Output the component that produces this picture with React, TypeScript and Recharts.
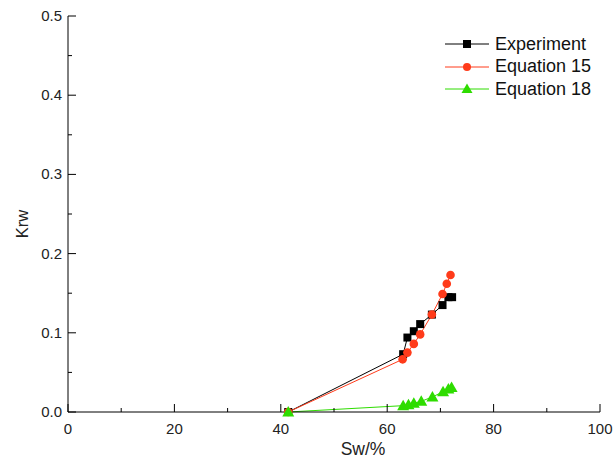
import { LineChart, Line, XAxis, YAxis } from 'recharts';

// Sw (%) and Krw
const swExp = [41.4, 63.0, 63.8, 65.0, 66.2, 68.4, 70.4, 71.5, 72.2];
const krwExp = [0, 0.073, 0.094, 0.102, 0.111, 0.123, 0.135, 0.145, 0.145];

const swEq15 = [41.4, 62.9, 63.8, 65.0, 66.2, 68.4, 70.4, 71.2, 71.9];
const krwEq15 = [0, 0.0665, 0.075, 0.086, 0.098, 0.123, 0.149, 0.162, 0.173];

const swEq18 = [41.4, 63.0, 64.0, 65.0, 66.4, 68.5, 70.5, 71.5, 72.1];
const krwEq18 = [0, 0.008, 0.009, 0.011, 0.0135, 0.019, 0.0256, 0.029, 0.031];

const xTicks = [0, 10, 20, 30, 40, 50, 60, 70, 80, 90, 100];
const yTicks = [0, 0.05, 0.1, 0.15, 0.2, 0.25, 0.3, 0.35, 0.4, 0.45, 0.5];

const legendItems = ['Experiment', 'Equation 15', 'Equation 18'];

const BLACK = '#000000';
const RED = '#ff3b1a';
const GREEN = '#2edc00';

const FONT = '"Liberation Sans", Arial, sans-serif';

const toRows = (xs: number[], ys: number[]) => xs.map((sw, i) => ({ sw, krw: ys[i] }));

const expData = toRows(swExp, krwExp);
const eq15Data = toRows(swEq15, krwEq15);
const eq18Data = toRows(swEq18, krwEq18);

const SquareDot = (props: any) => {
  const { cx, cy, index } = props;
  return <rect key={`s-${index}`} x={cx - 4} y={cy - 4} width={8} height={8} fill={BLACK} />;
};

const CircleDot = (props: any) => {
  const { cx, cy, index } = props;
  return <circle key={`c-${index}`} cx={cx} cy={cy} r={4.3} fill={RED} />;
};

const TriangleDot = (props: any) => {
  const { cx, cy, index } = props;
  return (
    <polygon
      key={`t-${index}`}
      points={`${cx},${cy - 6} ${cx - 6},${cy + 4.5} ${cx + 6},${cy + 4.5}`}
      fill={GREEN}
    />
  );
};

const XTick = (props: any) => {
  const { x, y, payload } = props;
  const major = payload.value % 20 === 0;
  return (
    <g>
      <line x1={x} y1={y} x2={x} y2={y - (major ? 8 : 4)} stroke="#000" strokeWidth={1} />
      {major && (
        <text x={x} y={y + 22} textAnchor="middle" fontSize={15} fill="#222" fontFamily={FONT}>
          {payload.value}
        </text>
      )}
    </g>
  );
};

const YTick = (props: any) => {
  const { x, y, payload } = props;
  const major = Math.round(payload.value * 100) % 10 === 0;
  return (
    <g>
      <line x1={x} y1={y} x2={x + (major ? 8 : 4)} y2={y} stroke="#000" strokeWidth={1} />
      {major && (
        <text x={x - 6} y={y + 5} textAnchor="end" fontSize={15} fill="#222" fontFamily={FONT}>
          {payload.value.toFixed(1)}
        </text>
      )}
    </g>
  );
};

const LegendIcon = ({ color, shape }: { color: string; shape: number }) => (
  <svg width={44} height={14} style={{ marginRight: 6 }}>
    <line x1={0} y1={7} x2={44} y2={7} stroke={color} strokeWidth={1} />
    {shape === 0 && <rect x={18} y={3} width={8} height={8} fill={color} />}
    {shape === 1 && <circle cx={22} cy={7} r={4} fill={color} />}
    {shape === 2 && <polygon points="22,1.5 16.5,11 27.5,11" fill={color} />}
  </svg>
);

export default function App() {
  const colors = [BLACK, RED, GREEN];
  return (
    <div style={{ position: 'relative', width: 613, height: 463 }}>
      <style>{'body { margin: 0; }'}</style>
      <LineChart width={613} height={463} margin={{ top: 16, right: 13, left: 0, bottom: 0 }}>
        <XAxis
          dataKey="sw"
          type="number"
          domain={[0, 100]}
          ticks={xTicks}
          interval={0}
          tick={<XTick />}
          tickLine={false}
          tickSize={0}
          tickMargin={0}
          height={51}
          stroke="#000"
          allowDuplicatedCategory={false}
          label={{
            content: ({ viewBox }: any) => (
              <text
                x={viewBox.x + viewBox.width / 2 + 29}
                y={viewBox.y + 43}
                textAnchor="middle"
                fontSize={17.5}
                fill="#222"
                fontFamily={FONT}
              >
                Sw/%
              </text>
            ),
          }}
        />
        <YAxis
          type="number"
          domain={[0, 0.5]}
          ticks={yTicks}
          interval={0}
          tick={<YTick />}
          tickLine={false}
          tickSize={0}
          tickMargin={0}
          width={68}
          stroke="#000"
          label={{
            content: ({ viewBox }: any) => {
              const lx = 22;
              const ly = viewBox.y + viewBox.height / 2 + 10;
              return (
                <text
                  x={lx}
                  y={ly}
                  transform={`rotate(-90, ${lx}, ${ly})`}
                  textAnchor="middle"
                  dominantBaseline="central"
                  fontSize={16.5}
                  fill="#222"
                  fontFamily={FONT}
                >
                  Krw
                </text>
              );
            },
          }}
        />
        <Line
          data={expData}
          dataKey="krw"
          stroke={BLACK}
          strokeWidth={1}
          dot={SquareDot}
          activeDot={false}
          isAnimationActive={false}
        />
        <Line
          data={eq15Data}
          dataKey="krw"
          stroke={RED}
          strokeWidth={1}
          dot={CircleDot}
          activeDot={false}
          isAnimationActive={false}
        />
        <Line
          data={eq18Data}
          dataKey="krw"
          stroke={GREEN}
          strokeWidth={1}
          dot={TriangleDot}
          activeDot={false}
          isAnimationActive={false}
        />
      </LineChart>
      <div style={{ position: 'absolute', left: 445, top: 33, fontFamily: FONT, fontSize: 18, color: '#111' }}>
        {legendItems.map((name, i) => (
          <div key={name} style={{ display: 'flex', alignItems: 'center', height: 22.5 }}>
            <LegendIcon color={colors[i]} shape={i} />
            <span>{name}</span>
          </div>
        ))}
      </div>
    </div>
  );
}
